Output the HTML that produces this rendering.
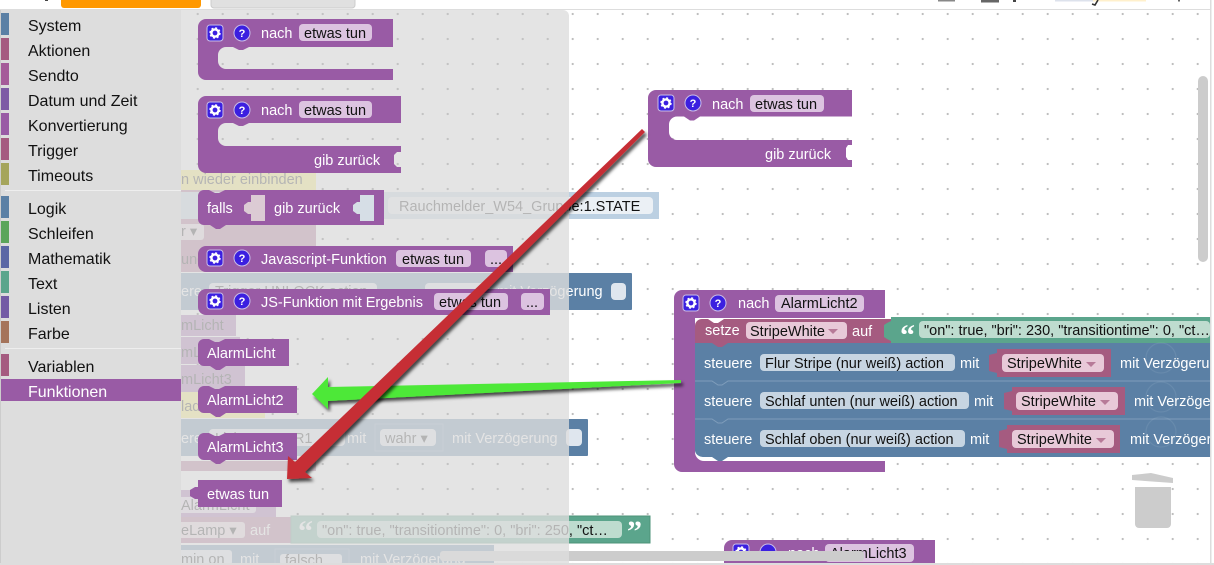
<!DOCTYPE html>
<html><head><meta charset="utf-8"><title>Blockly Funktionen</title>
<style>
html,body{margin:0;padding:0;background:#fff;width:1214px;height:565px;overflow:hidden}
svg{display:block;font-family:"Liberation Sans",sans-serif;filter:blur(.35px)}
.w{fill:#fff;font-size:14.5px}
.k{fill:#111;font-size:14.5px}
.t{fill:#111;font-size:16px}
</style></head><body>
<svg width="1214" height="565" viewBox="0 0 1214 565" xmlns="http://www.w3.org/2000/svg">
<defs>
<pattern id="dots" x="22.7" y="14" width="25" height="25" patternUnits="userSpaceOnUse"><circle cx="0" cy="0" r="1.1" fill="#bbb"/><circle cx="25" cy="0" r="1.1" fill="#bbb"/><circle cx="0" cy="25" r="1.1" fill="#bbb"/><circle cx="25" cy="25" r="1.1" fill="#bbb"/></pattern>
<pattern id="dots2" x="22.7" y="14" width="25" height="25" patternUnits="userSpaceOnUse"><circle cx="0" cy="0" r="1.1" fill="#555"/><circle cx="25" cy="0" r="1.1" fill="#555"/><circle cx="0" cy="25" r="1.1" fill="#555"/><circle cx="25" cy="25" r="1.1" fill="#555"/></pattern>
<filter id="sh" x="-10%" y="-10%" width="120%" height="120%"><feDropShadow dx="2" dy="3" stdDeviation="1.6" flood-color="#000" flood-opacity=".7"/></filter>
<g id="gear"><rect x="-8" y="-8" width="16" height="16" rx="3" fill="#3b1fe0" stroke="#c9bde8" stroke-width="1"/><circle r="3.6" fill="none" stroke="#fff" stroke-width="2.4"/><circle r="4.9" fill="none" stroke="#fff" stroke-width="1.6" stroke-dasharray="2 1.85"/></g>
</defs>
<rect width="1214" height="565" fill="#fff"/>
<rect y="10" width="1210" height="555" fill="url(#dots)"/>
<rect x="181" y="10" width="388" height="555" fill="url(#dots2)"/>
<!-- top bar -->
<rect x="0" y="9" width="1210" height="1" fill="#ddd"/>
<rect x="61" y="-4" width="140" height="12" rx="3" fill="#ff9800"/>
<rect x="211" y="-4" width="144" height="12" rx="3" fill="#e0e0e0" stroke="#ccc"/>
<rect x="45" y="0" width="3" height="1" fill="#444"/>
<rect x="938" y="0" width="17" height="1.5" fill="#888"/>
<rect x="981" y="0" width="18" height="2.5" fill="#666"/>
<rect x="1013" y="0" width="3" height="2" fill="#444"/>
<rect x="1055" y="0" width="38" height="1.5" fill="#dde2ec"/>
<rect x="1093" y="0" width="53" height="1.5" fill="#fff0cc"/>
<path d="M1098 0 L1095 5 L1092 4" fill="none" stroke="#333" stroke-width="1.6"/>
<rect x="1178" y="0" width="2" height="1.5" fill="#666"/>

<!-- ghost blocks behind flyout -->
<rect x="170" y="170" width="146" height="20" fill="#fff060"/>
<text x="181" y="184" class="k">n wieder einbinden</text>
<rect x="170" y="190" width="146" height="82" fill="#a55b80"/>
<text x="181" y="211" class="w">s</text>
<rect x="170" y="224" width="34" height="16" rx="3" fill="#e6cfdc"/>
<text x="181" y="236" class="k">r ▾</text>
<text x="181" y="264" class="k">ung</text>
<rect x="170" y="192" width="489" height="27" fill="#bcd0e2"/>
<rect x="388" y="197" width="265" height="17" rx="4" fill="#ebf0f5"/>
<text x="399" y="211" class="k">Rauchmelder_W54_Gruppe:1.STATE</text>
<rect x="170" y="273" width="462" height="37" rx="1" fill="#5b80a5"/>
<text x="181" y="296" class="w">ere</text>
<rect x="209" y="283" width="168" height="17" rx="4" fill="#dfe6ee"/>
<text x="215" y="296" class="k">Trigger UNLOCK action</text>
<rect x="425" y="283" width="65" height="17" rx="4" fill="#dfe6ee"/>
<text x="497" y="296" class="w">mit Verzögerung</text>
<rect x="611" y="283" width="15" height="17" rx="4" fill="#dfe6ee"/>
<rect x="170" y="315" width="66" height="21" fill="#995ba5"/>
<text x="181" y="330" class="k">mLicht</text>
<rect x="170" y="337" width="70" height="27" fill="#995ba5"/>
<text x="181" y="357" class="k">mLicht2</text>
<rect x="170" y="365" width="75" height="27" fill="#995ba5"/>
<text x="181" y="384" class="k">mLicht3</text>
<rect x="170" y="392" width="95" height="26" fill="#fff060"/>
<text x="181" y="411" class="k">lad</text>
<rect x="170" y="419" width="418" height="37" rx="1" fill="#5b80a5"/>
<text x="181" y="443" class="w">ere</text>
<rect x="209" y="429" width="136" height="17" rx="4" fill="#dfe6ee"/>
<text x="215" y="443" class="k">Licht POWER1</text>
<text x="347" y="443" class="w">mit</text>
<rect x="375" y="424" width="68" height="27" fill="#5b80a5" stroke="#7796b4"/>
<rect x="380" y="429" width="56" height="17" rx="4" fill="#dfe6ee"/>
<text x="385" y="443" class="k">wahr ▾</text>
<text x="452" y="443" class="w">mit Verzögerung</text>
<rect x="566" y="429" width="16" height="17" rx="4" fill="#dfe6ee"/>
<rect x="170" y="461" width="146" height="10" fill="#a55b80"/>
<rect x="170" y="490" width="106" height="27" fill="#995ba5"/>
<rect x="170" y="497" width="86" height="16" rx="3" fill="#e3d3e8"/>
<text x="181" y="510" class="k">AlarmLicht</text>
<rect x="170" y="517" width="121" height="26" fill="#a55b80"/>
<rect x="170" y="522" width="75" height="16" rx="3" fill="#e8d2dd"/>
<text x="181" y="535" class="k">eLamp ▾</text>
<text x="250" y="535" class="w">auf</text>
<rect x="291" y="516" width="359" height="27" fill="#5ba58c" stroke="#4d9379"/>
<text x="298" y="541" fill="#fff" font-size="30" font-weight="bold" font-family="Liberation Serif">“</text>
<rect x="317" y="521" width="305" height="17" rx="4" fill="#bedccf"/>
<text x="322" y="535" class="k">"on": true, "transitiontime": 0, "bri": 250, "ct…</text>
<text x="627" y="541" fill="#fff" font-size="30" font-weight="bold" font-family="Liberation Serif">”</text>
<rect x="170" y="545" width="324" height="20" fill="#5b80a5"/>
<rect x="170" y="550" width="62" height="15" rx="3" fill="#dfe6ee"/>
<text x="181" y="564" class="k">min on</text>
<text x="240" y="564" class="w">mit</text>
<rect x="275" y="549" width="74" height="16" fill="#5b80a5" stroke="#7796b4"/>
<rect x="280" y="554" width="62" height="11" rx="3" fill="#dfe6ee"/>
<text x="285" y="565" class="k">falsch</text>
<text x="360" y="564" class="w">mit Verzögerung</text>

<!-- AlarmLicht3 bottom -->
<path d="M724 548 a8 8 0 0 1 8-8 H935 V565 H724 Z" fill="#995ba5"/>
<rect x="825" y="544" width="89" height="18" rx="4" fill="#dcc3e0"/>
<text x="830" y="558" class="k">AlarmLicht3</text>
<use href="#gear" x="741" y="552"/>
<circle cx="768" cy="552" r="8" fill="#3b1fe0" stroke="#c9bde8"/>
<text x="788" y="558" class="w">nach</text>

<!-- scrollbars -->
<rect x="440" y="551" width="424" height="10" rx="3" fill="#ccc"/>
<rect x="1198" y="76" width="10" height="186" rx="5" fill="#ccc"/>

<!-- Big AlarmLicht2 block -->
<path d="M674 298 a8 8 0 0 1 8-8 H885 V318 H695 V452 a9 9 0 0 0 9 9 H885 V472 H682 a8 8 0 0 1-8-8 Z" fill="#995ba5"/>
<use href="#gear" x="691" y="303"/>
<circle cx="718" cy="303" r="8" fill="#3b1fe0" stroke="#c9bde8"/>
<text x="718" y="307" text-anchor="middle" fill="#fff" font-size="11" font-weight="bold">?</text>
<text x="738" y="308" class="w">nach</text>
<rect x="775" y="295" width="89" height="17" rx="4" fill="#dcc3e0"/>
<text x="781" y="308" class="k">AlarmLicht2</text>

<rect x="891" y="317" width="319" height="26" fill="#5ba58c"/>
<path d="M695 326 a7 7 0 0 1 7-7 h6 l6 4 h4 l6-4 H891 V343 H728 l-6 4 h-4 l-6-4 H695 Z" fill="#a55b80"/>
<path d="M891 321 l-4 2 -3 2 v12 l3 2 4 2 Z" fill="#5ba58c"/>
<text x="705" y="335" class="w">setze</text>
<rect x="746" y="322" width="101" height="17" rx="4" fill="#e8c9d8"/>
<text x="750" y="336" class="k">StripeWhite</text>
<path d="M828 329 h10 l-5 5 Z" fill="#b77a98"/>
<text x="852" y="336" class="w">auf</text>
<text x="900" y="345" fill="#fff" font-size="30" font-weight="bold" font-family="Liberation Serif">“</text>
<rect x="919" y="321" width="291" height="17" rx="4" fill="#bedccf"/>
<text x="924" y="335" class="k">"on": true, "bri": 230, "transitiontime": 0, "ct…</text>

<rect x="695" y="343" width="515" height="38" fill="#5b80a5"/>
<rect x="695" y="381" width="515" height="38" fill="#5b80a5"/>
<path d="M695 419 H1210 V457 H728 l-6 4 h-4 l-6-4 H703 a8 8 0 0 1-8-6 Z" fill="#5b80a5"/>
<g fill="none" stroke="#7f9dbb" stroke-width="1"><path d="M695 381 H712 l6 4 h4 l6-4 H1210"/><path d="M695 419 H712 l6 4 h4 l6-4 H1210"/></g>
<path d="M712 343 l6 4 h4 l6-4 Z" fill="#a55b80"/>

<text x="704" y="368" class="w">steuere</text>
<rect x="760" y="354" width="195" height="17" rx="4" fill="#c7d5e2"/>
<text x="765" y="368" class="k">Flur Stripe (nur weiß) action</text>
<text x="960" y="368" class="w">mit</text>
<path d="M997 353 l-8 2 v16 l8 2 Z" fill="#a55b80"/>
<rect x="997" y="349" width="114" height="28" fill="#a55b80"/>
<rect x="1002" y="354" width="102" height="18" rx="4" fill="#e8c9d8"/>
<text x="1007" y="368" class="k">StripeWhite</text>
<path d="M1086 362 h10 l-5 5 Z" fill="#b77a98"/>
<text x="1120" y="368" class="w">mit Verzögerung</text>

<text x="704" y="406" class="w">steuere</text>
<rect x="760" y="392" width="209" height="17" rx="4" fill="#c7d5e2"/>
<text x="765" y="406" class="k">Schlaf unten (nur weiß) action</text>
<text x="974" y="406" class="w">mit</text>
<path d="M1012 391 l-8 2 v16 l8 2 Z" fill="#a55b80"/>
<rect x="1012" y="387" width="113" height="28" fill="#a55b80"/>
<rect x="1016" y="392" width="102" height="18" rx="4" fill="#e8c9d8"/>
<text x="1021" y="406" class="k">StripeWhite</text>
<path d="M1100 400 h10 l-5 5 Z" fill="#b77a98"/>
<text x="1134" y="406" class="w">mit Verzögerung</text>

<text x="704" y="444" class="w">steuere</text>
<rect x="760" y="430" width="205" height="17" rx="4" fill="#c7d5e2"/>
<text x="765" y="444" class="k">Schlaf oben (nur weiß) action</text>
<text x="970" y="444" class="w">mit</text>
<path d="M1007 429 l-8 2 v16 l8 2 Z" fill="#a55b80"/>
<rect x="1007" y="425" width="113" height="28" fill="#a55b80"/>
<rect x="1012" y="430" width="102" height="18" rx="4" fill="#e8c9d8"/>
<text x="1017" y="444" class="k">StripeWhite</text>
<path d="M1096 438 h10 l-5 5 Z" fill="#b77a98"/>
<text x="1130" y="444" class="w">mit Verzögerung</text>

<!-- zoom control ghost + trash -->
<g fill="none" stroke="#fff" stroke-opacity=".08" stroke-width="1.2"><circle cx="1161" cy="358" r="15"/><circle cx="1161" cy="397" r="15"/><circle cx="1161" cy="432" r="15"/></g>
<path d="M1132 475 L1151 473 L1173 478 V483 L1132 480 Z" fill="#ccc"/>
<path d="M1135 487 H1171 V524 a4 4 0 0 1-4 4 H1139 a4 4 0 0 1-4-4 Z" fill="#ccc"/>

<!-- Top right function -->
<path d="M648 98 a8 8 0 0 1 8-8 H852 V116.5 H700 l-6 4 h-4 l-6-4 H677 a8 8 0 0 0-8 8 V132 a8 8 0 0 0 8 8 H852 V145 h-4 l-2 3 v9 l2 3 h4 V167 H656 a8 8 0 0 1-8-8 Z" fill="#995ba5"/>
<use href="#gear" x="666" y="103"/>
<circle cx="693" cy="103" r="8" fill="#3b1fe0" stroke="#c9bde8"/>
<text x="693" y="107" text-anchor="middle" fill="#fff" font-size="11" font-weight="bold">?</text>
<text x="712" y="109" class="w">nach</text>
<rect x="750" y="95" width="74" height="17" rx="4" fill="#dcc3e0"/>
<text x="755" y="109" class="k">etwas tun</text>
<text x="765" y="159" class="w">gib zurück</text>

<!-- flyout overlay -->
<path d="M181 10 H563 a6 6 0 0 1 6 6 V565 H181 Z" fill="#ddd" fill-opacity=".8"/>

<!-- flyout blocks -->
<path d="M198 27 a8 8 0 0 1 8-8 H393 V47 H249 l-6 3 h-4 l-6-3 H226 a8 8 0 0 0-8 8 V61 a8 8 0 0 0 8 8 H393 V80 H206 a8 8 0 0 1-8-8 Z" fill="#995ba5"/>
<use href="#gear" x="215" y="33"/>
<circle cx="242" cy="33" r="8" fill="#3b1fe0" stroke="#c9bde8"/>
<text x="242" y="37" text-anchor="middle" fill="#fff" font-size="11" font-weight="bold">?</text>
<text x="261" y="38" class="w">nach</text>
<rect x="299" y="24" width="73" height="17" rx="4" fill="#dcc3e0"/>
<text x="304" y="38" class="k">etwas tun</text>

<path d="M198 104 a8 8 0 0 1 8-8 H401 V123 H249 l-6 3 h-4 l-6-3 H226 a8 8 0 0 0-8 8 V138 a8 8 0 0 0 8 8 H401 V152 h-4 l-3 3 v9 l3 3 h4 V173 H206 a8 8 0 0 1-8-8 Z" fill="#995ba5"/>
<use href="#gear" x="215" y="110"/>
<circle cx="242" cy="110" r="8" fill="#3b1fe0" stroke="#c9bde8"/>
<text x="242" y="114" text-anchor="middle" fill="#fff" font-size="11" font-weight="bold">?</text>
<text x="261" y="115" class="w">nach</text>
<rect x="299" y="101" width="73" height="17" rx="4" fill="#dcc3e0"/>
<text x="304" y="115" class="k">etwas tun</text>
<text x="314" y="165" class="w">gib zurück</text>

<path d="M198 196 a6 6 0 0 1 6-6 h5 l6 3 h4 l6-3 H384 V225 H226 l-6 4 h-4 l-6-4 H204 a6 6 0 0 1-6-6 Z" fill="#995ba5"/>
<text x="207" y="213" class="w">falls</text>
<path d="M251 195 H265 V221 H251 V214 h-3 l-4-3 v-6 l4-3 h3 Z" fill="#dccbd4"/>
<text x="274" y="213" class="w">gib zurück</text>
<path d="M360 195 H374 V221 H360 V214 h-3 l-4-3 v-6 l4-3 h3 Z" fill="#d6dee6"/>

<path d="M198 254 a8 8 0 0 1 8-8 H513 V272 H206 a8 8 0 0 1-8-8 Z" fill="#995ba5"/>
<use href="#gear" x="215" y="258"/>
<circle cx="242" cy="258" r="8" fill="#3b1fe0" stroke="#c9bde8"/>
<text x="242" y="262" text-anchor="middle" fill="#fff" font-size="11" font-weight="bold">?</text>
<text x="261" y="264" class="w">Javascript-Funktion</text>
<rect x="396" y="250" width="75" height="17" rx="4" fill="#dcc3e0"/>
<text x="402" y="264" class="k">etwas tun</text>
<rect x="485" y="250" width="22" height="17" rx="4" fill="#dcc3e0"/>
<text x="490" y="264" class="k">...</text>

<path d="M198 297 a8 8 0 0 1 8-8 H550 V315 H206 a8 8 0 0 1-8-8 Z" fill="#995ba5"/>
<use href="#gear" x="215" y="301"/>
<circle cx="242" cy="301" r="8" fill="#3b1fe0" stroke="#c9bde8"/>
<text x="242" y="305" text-anchor="middle" fill="#fff" font-size="11" font-weight="bold">?</text>
<text x="261" y="307" class="w">JS-Funktion mit Ergebnis</text>
<rect x="434" y="293" width="74" height="17" rx="4" fill="#dcc3e0"/>
<text x="439" y="307" class="k">etwas tun</text>
<rect x="521" y="293" width="23" height="17" rx="4" fill="#dcc3e0"/>
<text x="526" y="307" class="k">...</text>

<path d="M198 345 a6 6 0 0 1 6-6 h5 l6 3 h4 l6-3 H289 V366 H226 l-6 4 h-4 l-6-4 H204 a6 6 0 0 1-6-6 Z" fill="#995ba5"/>
<text x="207" y="358" class="w">AlarmLicht</text>
<path d="M198 392 a6 6 0 0 1 6-6 h5 l6 3 h4 l6-3 H297 V413 H226 l-6 4 h-4 l-6-4 H204 a6 6 0 0 1-6-6 Z" fill="#995ba5"/>
<text x="207" y="405" class="w">AlarmLicht2</text>
<path d="M198 439 a6 6 0 0 1 6-6 h5 l6 3 h4 l6-3 H297 V460 H226 l-6 4 h-4 l-6-4 H204 a6 6 0 0 1-6-6 Z" fill="#995ba5"/>
<text x="207" y="452" class="w">AlarmLicht3</text>
<path d="M198 480 H282 V507 H198 V499 h-3 l-5-3 v-6 l5-3 h3 Z" fill="#995ba5"/>
<text x="207" y="499" class="w">etwas tun</text>

<!-- toolbox -->
<rect x="0" y="10" width="181" height="555" fill="#ddd"/>
<rect x="1" y="13" width="8" height="22" fill="#5b80a5"/><text x="28" y="31" class="t">System</text>
<rect x="1" y="38" width="8" height="22" fill="#a55b80"/><text x="28" y="56" class="t">Aktionen</text>
<rect x="1" y="63" width="8" height="22" fill="#a55b99"/><text x="28" y="81" class="t">Sendto</text>
<rect x="1" y="88" width="8" height="22" fill="#7e5ba5"/><text x="28" y="106" class="t">Datum und Zeit</text>
<rect x="1" y="113" width="8" height="22" fill="#995ba5"/><text x="28" y="131" class="t">Konvertierung</text>
<rect x="1" y="138" width="8" height="22" fill="#a55b80"/><text x="28" y="156" class="t">Trigger</text>
<rect x="1" y="163" width="8" height="22" fill="#a5a55b"/><text x="28" y="181" class="t">Timeouts</text>
<rect x="5" y="190" width="176" height="1" fill="#eee"/>
<rect x="1" y="196" width="8" height="22" fill="#5b80a5"/><text x="28" y="214" class="t">Logik</text>
<rect x="1" y="221" width="8" height="22" fill="#5ba55b"/><text x="28" y="239" class="t">Schleifen</text>
<rect x="1" y="246" width="8" height="22" fill="#5b67a5"/><text x="28" y="264" class="t">Mathematik</text>
<rect x="1" y="271" width="8" height="22" fill="#5ba58c"/><text x="28" y="289" class="t">Text</text>
<rect x="1" y="296" width="8" height="22" fill="#745ba5"/><text x="28" y="314" class="t">Listen</text>
<rect x="1" y="321" width="8" height="22" fill="#a5745b"/><text x="28" y="339" class="t">Farbe</text>
<rect x="5" y="348" width="176" height="1" fill="#eee"/>
<rect x="1" y="354" width="8" height="22" fill="#a55b80"/><text x="28" y="372" class="t">Variablen</text>
<rect x="1" y="379" width="180" height="22" fill="#995ba5"/><text x="28" y="397" class="t" style="fill:#fff">Funktionen</text>

<!-- frame -->
<rect x="0" y="10" width="1" height="555" fill="#ccc"/>
<rect x="1210" y="0" width="1.5" height="565" fill="#ddd"/>
<rect x="1211.5" y="0" width="3" height="565" fill="#fff"/>
<rect x="0" y="563" width="1214" height="2" fill="#ddd"/>

<!-- arrows -->
<polygon points="681,380 681,383 328,401 328,409 312,394 328,377 328,387" fill="#4de838" filter="url(#sh)"/>
<polygon points="642,129 645,132 305,472 312,478 287,479 288,456 295,462" fill="#c62d35" filter="url(#sh)"/>
</svg>
</body></html>
